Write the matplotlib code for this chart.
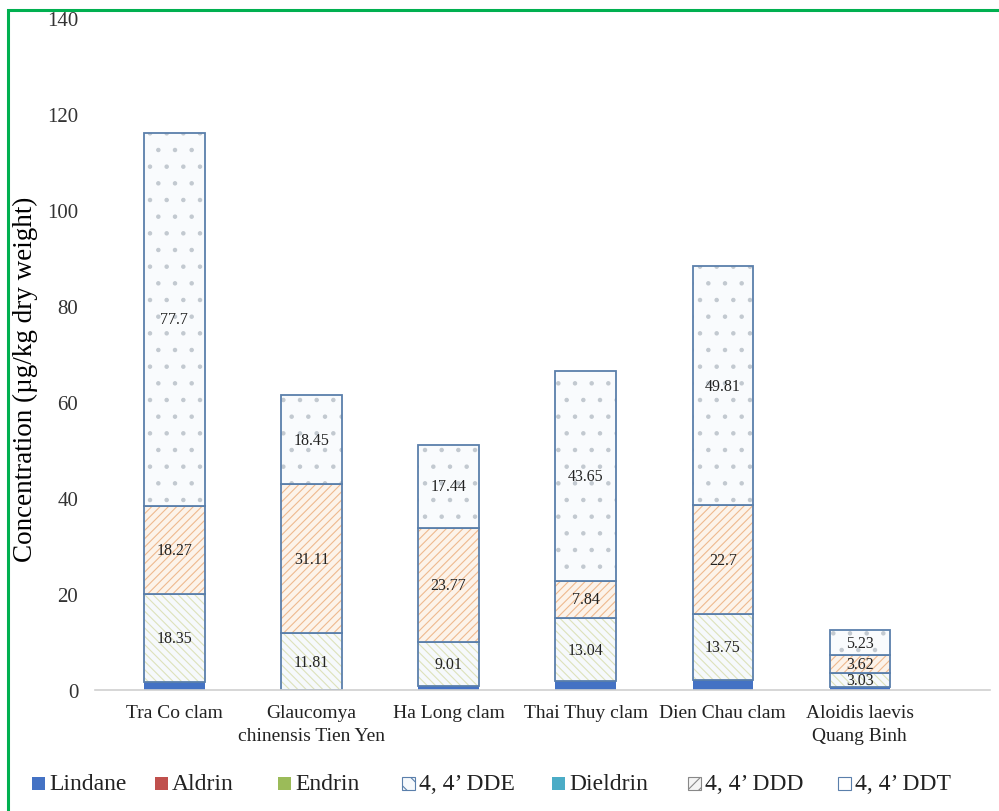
import numpy as np
import matplotlib.pyplot as plt
from matplotlib.patches import Rectangle

plt.rcParams['font.family'] = ['Liberation Serif', 'DejaVu Serif']
plt.rcParams['hatch.linewidth'] = 0.8

# data (µg/kg dry weight)
sites = ["Tra Co clam", "Glaucomya\nchinensis Tien Yen", "Ha Long clam",
         "Thai Thuy clam", "Dien Chau clam", "Aloidis laevis\nQuang Binh"]
lindane = [1.7, 0.0, 0.9, 1.9, 2.0, 0.6]
aldrin = [0, 0, 0, 0, 0, 0]
endrin = [0, 0, 0, 0, 0, 0]
dde = [18.35, 11.81, 9.01, 13.04, 13.75, 3.03]
dieldrin = [0, 0, 0, 0, 0, 0]
ddd = [18.27, 31.11, 23.77, 7.84, 22.7, 3.62]
ddt = [77.7, 18.45, 17.44, 43.65, 49.81, 5.23]

legend_labels = ["Lindane", "Aldrin", "Endrin", "4, 4’ DDE", "Dieldrin", "4, 4’ DDD", "4, 4’ DDT"]

edge = "#5a7fab"
x = np.arange(len(sites))
w = 0.44

W, H = 999, 812
fig = plt.figure(figsize=(W / 100, H / 100), dpi=100)
ax = fig.add_axes([0.095, 0.149, 0.896, 0.828])

bottom = np.zeros(len(sites))
# solid series
for vals, col in [(lindane, "#4472c4"), (aldrin, "#c0504d"), (endrin, "#9bbb59")]:
    ax.bar(x, vals, w, bottom=bottom, color=col, linewidth=0)
    bottom += np.array(vals)

def hatched(vals, fill, hcol, hatch):
    global bottom
    v = np.array(vals)
    ax.bar(x, v, w, bottom=bottom, color=fill, edgecolor=hcol, hatch=hatch, linewidth=0)
    ax.bar(x, v, w, bottom=bottom, fill=False, edgecolor=edge, linewidth=1.3)
    for xi, b, val in zip(x, bottom, v):
        ax.text(xi, b + val / 2, f"{val:g}", ha="center", va="center", fontsize=11.5, color="#222222")
    bottom = bottom + v

hatched(dde, "#f6f9fc", "#dde2bb", "\\\\\\\\")
ax.bar(x, dieldrin, w, bottom=bottom, color="#4bacc6", linewidth=0)
bottom = bottom + np.array(dieldrin)
hatched(ddd, "#fcf3ea", "#efb98f", "////")
hatched(ddt, "#f9fbfd", "#c2c9d0", ".")

ax.set_ylim(0, 140)
ax.set_xlim(-0.58, 5.95)
ax.set_yticks(range(0, 141, 20))
ax.tick_params(axis="y", length=0, labelsize=15, pad=12, labelcolor="#333333")
ax.tick_params(axis="x", length=0, labelsize=14, pad=10, labelcolor="#222222")
ax.set_xticks(x)
ax.set_xticklabels(sites, linespacing=1.45)
for s in ["top", "right", "left"]:
    ax.spines[s].set_visible(False)
ax.spines["bottom"].set_color("#d0d0d0")
ax.spines["bottom"].set_linewidth(1.2)
ax.set_ylabel("Concentration (µg/kg dry weight)", fontsize=19.5)
ax.yaxis.set_label_coords(-0.064, 0.463)

# legend drawn in pixel positions like the Excel export
sq_x = [32, 155, 278, 402, 552, 688, 838]
legend_face = ["#4472c4", "#c0504d", "#9bbb59", "#f6f9fc", "#4bacc6", "#f4f4f4", "white"]
legend_edge = ["none", "none", "none", edge, "none", "#888888", edge]
legend_hatch = [None, None, None, "\\\\", None, "///", None]
ly = 785
for px, lab, fc, ec, hh in zip(sq_x, legend_labels, legend_face, legend_edge, legend_hatch):
    fig.add_artist(Rectangle((px / W, 1 - (ly + 6) / H), 13 / W, 13 / H, transform=fig.transFigure,
                             facecolor=fc, edgecolor=ec, hatch=hh, linewidth=0.8))
    fig.text((px + 17) / W, 1 - ly / H, lab, fontsize=17, ha="left", va="center", color="#222222")

# green frame
fig.add_artist(Rectangle((0.008, -0.02), 1.1, 1.0065, transform=fig.transFigure,
                         fill=False, edgecolor="#00b050", linewidth=2.2))

fig.savefig("out.png", dpi=100)
